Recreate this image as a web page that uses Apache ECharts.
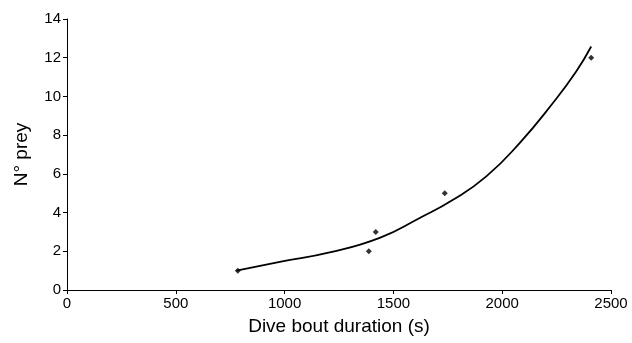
<!DOCTYPE html>
<html>
<head>
<meta charset="utf-8">
<script src="https://cdn.jsdelivr.net/npm/echarts@6/dist/echarts.min.js"></script>
<style>
  html, body { margin: 0; padding: 0; background: #fff; }
  #chart { width: 632px; height: 343px; }
</style>
</head>
<body>
<div id="chart"></div>
<script>
// observed points: dive bout duration (s) vs number of prey
const duration = [785, 1387, 1419, 1736, 2409];
const prey = [1, 2, 3, 5, 12];

// fitted trend line
const fitX = [779, 978, 1207, 1437, 1621, 1774, 1927, 2080, 2233, 2340, 2409];
const fitY = [1.0, 1.45, 1.94, 2.69, 3.72, 4.66, 5.87, 7.59, 9.66, 11.29, 12.58];

const font = 'Liberation Sans, Arial, sans-serif';

const chart = echarts.init(document.getElementById('chart'));

const axisCommon = {
  axisLine: { show: true, onZero: false, lineStyle: { color: '#000', width: 1 } },
  axisTick: { show: true, inside: false, length: 4, lineStyle: { color: '#000' } },
  splitLine: { show: false },
  axisLabel: { color: '#000', fontFamily: font, fontSize: 15, margin: 6, formatter: (v) => String(v) },
  nameLocation: 'middle',
  nameTextStyle: { color: '#000', fontFamily: font, fontSize: 19 }
};

chart.setOption({
  animation: false,
  backgroundColor: '#fff',
  grid: { left: 67, right: 21, top: 19, bottom: 53 },
  xAxis: Object.assign({}, axisCommon, {
    type: 'value',
    min: 0,
    max: 2500,
    interval: 500,
    name: 'Dive bout duration (s)',
    nameGap: 27
  }),
  yAxis: Object.assign({}, axisCommon, {
    type: 'value',
    min: 0,
    max: 14,
    interval: 2,
    name: 'N° prey',
    nameGap: 36
  }),
  series: [
    {
      type: 'line',
      data: fitX.map((x, i) => [x, fitY[i]]),
      smooth: 0.5,
      showSymbol: false,
      lineStyle: { color: '#000', width: 1.8 },
      z: 2
    },
    {
      type: 'scatter',
      data: duration.map((x, i) => [x, prey[i]]),
      symbol: 'diamond',
      symbolSize: 6,
      itemStyle: { color: '#000' },
      z: 3
    }
  ]
});
</script>
</body>
</html>
